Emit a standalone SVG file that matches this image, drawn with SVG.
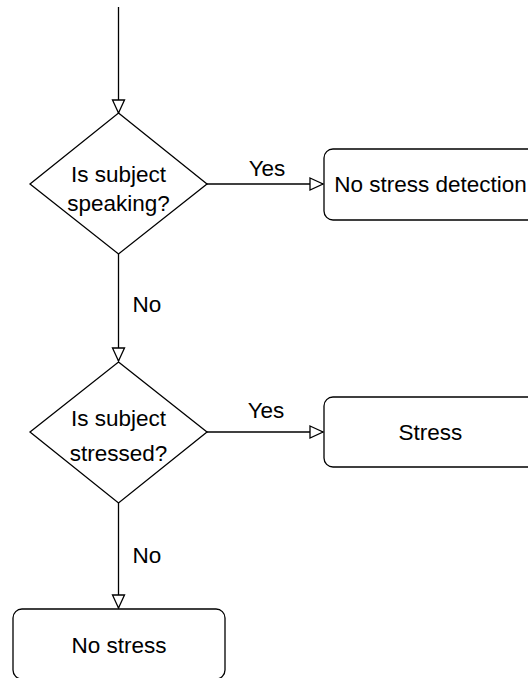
<svg xmlns="http://www.w3.org/2000/svg" width="528" height="678" viewBox="0 0 528 678">
<style>
.s{fill:#fff;stroke:#000;stroke-width:1.3}
.t{font-family:"Liberation Sans",Arial,sans-serif;font-size:22.5px;fill:#000;text-anchor:middle}
.c{fill:none;stroke:#000;stroke-width:1.3}
</style>
<defs>
<marker id="a" markerUnits="userSpaceOnUse" markerWidth="16" markerHeight="16" refX="14" refY="7" orient="auto" viewBox="0 0 16 14">
<path d="M1,1 L14,7 L1,13 Z" fill="#fff" stroke="#000" stroke-width="1.3"/>
</marker>
</defs>
<rect width="528" height="678" fill="#fff"/>
<g id="connectors">
<path class="c" d="M118.5,7 V113" marker-end="url(#a)"/>
<path class="c" d="M207,184 H323" marker-end="url(#a)"/>
<path class="c" d="M118.5,254 V361" marker-end="url(#a)"/>
<path class="c" d="M207,432 H323" marker-end="url(#a)"/>
<path class="c" d="M118.5,503 V608" marker-end="url(#a)"/>
<text class="t" x="267" y="176">Yes</text>
<text class="t" x="147" y="312">No</text>
<text class="t" x="266" y="418">Yes</text>
<text class="t" x="147" y="563">No</text>
</g>
<g id="d1">
<path class="s" d="M118.5,113 L207,184 L118.5,254 L30,184 Z"/>
<text class="t" x="118.5" y="182">Is subject</text>
<text class="t" x="118.5" y="211">speaking?</text>
</g>
<g id="b1">
<rect class="s" x="324" y="149" width="213" height="71" rx="9"/>
<text class="t" x="430.5" y="192">No stress detection</text>
</g>
<g id="d2">
<path class="s" d="M118.5,362 L207,432 L118.5,503 L30,432 Z"/>
<text class="t" x="118.5" y="426">Is subject</text>
<text class="t" x="118.5" y="461">stressed?</text>
</g>
<g id="b2">
<rect class="s" x="324" y="397" width="213" height="70" rx="9"/>
<text class="t" x="430.5" y="440">Stress</text>
</g>
<g id="b3">
<rect class="s" x="13" y="609" width="212" height="70" rx="9"/>
<text class="t" x="119" y="653">No stress</text>
</g>
</svg>
